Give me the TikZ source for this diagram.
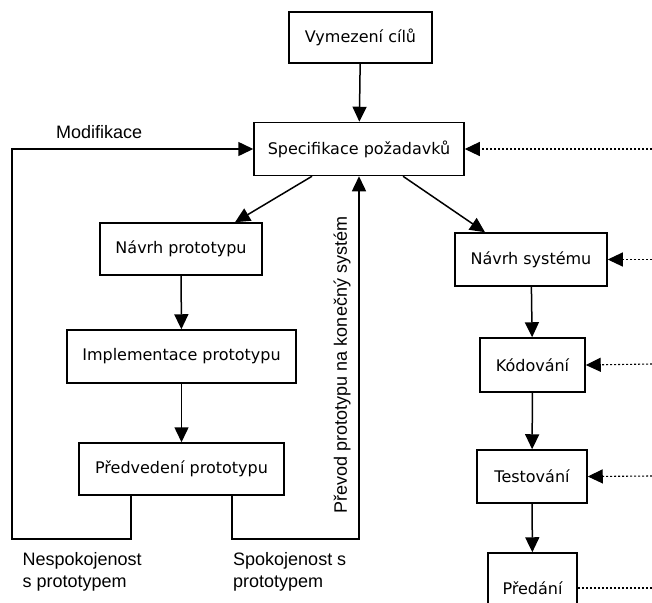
\documentclass[tikz,border=0pt]{standalone}
\usepackage{fontspec}
\setmainfont{DejaVu Sans}
\newfontfamily\labelfont{Liberation Sans}
\usetikzlibrary{arrows.meta,calc}
\tikzset{
  box/.style={draw, line width=1.5pt, fill=white, inner sep=0pt,
    font=\fontsize{16}{19}\selectfont},
  flow/.style={line width=1.5pt, -{Triangle[length=15pt,width=14pt]}},
  extflow/.style={line width=1.1pt, dash pattern=on 2pt off 2pt,
    -{Triangle[length=15pt,width=14pt]}},
  extline/.style={line width=1.1pt, dash pattern=on 2pt off 2pt},
  caption/.style={font=\labelfont\fontsize{18}{22}\selectfont, inner sep=0pt,
    align=left},
}
\begin{document}
\begin{tikzpicture}[x=1pt,y=-1pt]
\useasboundingbox (0,0) rectangle (652,602);
\clip (0,0) rectangle (652,602);

% prototype branch
\node[box, minimum width=143pt, minimum height=51pt] (goal) at (360.5,37.5) {Vymezení cílů};
\node[box, minimum width=210pt, minimum height=53pt] (spec) at (359,149) {Specifikace požadavků};
\node[box, minimum width=162pt, minimum height=52pt] (pdesign) at (181,249) {Návrh prototypu};
\node[box, minimum width=229pt, minimum height=53pt] (pimpl) at (181.5,356.5) {Implementace prototypu};
\node[box, minimum width=205pt, minimum height=52pt] (pdemo) at (181.5,469) {Předvedení prototypu};

% system branch
\node[box, minimum width=152pt, minimum height=53pt] (sdesign) at (531,259.5) {Návrh systému};
\node[box, minimum width=105pt, minimum height=54pt] (coding) at (532.5,365) {Kódování};
\node[box, minimum width=110pt, minimum height=53pt] (testing) at (532,476.5) {Testování};
\node[box, minimum width=89pt, minimum height=70pt] (handover) at (532.5,588) {Předání};

% main flow
\draw[flow] (goal) -- (spec);
\draw[flow] (312,0 |- spec.south) -- (235,0 |- pdesign.north);
\draw[flow] (403,0 |- spec.south) -- (485,0 |- sdesign.north);
\draw[flow] (pdesign) -- (pimpl);
\draw[flow] (pimpl) -- (pdemo);
\draw[flow] (sdesign) -- (coding);
\draw[flow] (coding) -- (testing);
\draw[flow] (testing) -- (handover);

% feedback loops from the prototype demo
\coordinate (lbot) at (12,539);
\coordinate (rbot) at (359,539);
\draw[flow] (131,0 |- pdemo.south) |- (lbot) |- (spec.west);
\draw[flow] (232,0 |- pdemo.south) |- (rbot) -- (spec.south);

% external inputs
\coordinate (inspec) at (652,149);
\coordinate (insdesign) at (652,259.5);
\coordinate (incoding) at (652,364);
\coordinate (intesting) at (652,476);
\coordinate (outhand) at (652,588);
\draw[extflow] (inspec) -- (spec.east);
\draw[extflow] (insdesign) -- (sdesign.east);
\draw[extflow] (incoding) -- (coding.east);
\draw[extflow] (intesting) -- (testing.east);
\draw[extline] (handover.east |- outhand) -- (outhand);

% labels
\node[caption, anchor=base west] (lmod) at (56,138) {Modifikace};
\node[caption, anchor=north west] (lnot) at (22.5,552) {Nespokojenost\\s prototypem};
\node[caption, anchor=north west] (lok) at (233,552) {Spokojenost s\\prototypem};
\node[caption, anchor=center, rotate=90] (lconv) at (342,365) {Převod prototypu na konečný systém};
\end{tikzpicture}
\end{document}
